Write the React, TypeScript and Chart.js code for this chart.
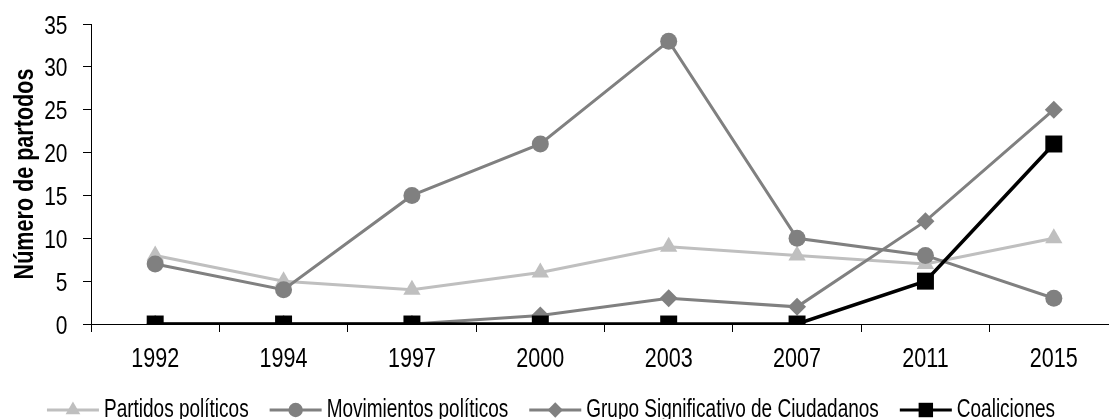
import React, { useEffect, useRef } from 'react';
import { Chart, registerables } from 'chart.js';
import { drawPoint } from 'chart.js/helpers';

Chart.register(...registerables);

const years = ['1992', '1994', '1997', '2000', '2003', '2007', '2011', '2015'];
const partidos = [8, 5, 4, 6, 9, 8, 7, 10];
const movimientos = [7, 4, 15, 21, 33, 10, 8, 3];
const grupo = [0, 0, 0, 1, 3, 2, 12, 25];
const coaliciones = [0, 0, 0, 0, 0, 0, 5, 21];
const seriesLabels = [
  'Partidos políticos',
  'Movimientos políticos',
  'Grupo Significativo de Ciudadanos',
  'Coaliciones',
];
const yTitle = 'Número de partodos';
const yMin = 0;
const yMax = 35;
const yStep = 5;

const REG = '"Liberation Sans", Arial, sans-serif';
const SX = 0.77; // condensed text
const SX_LEG = 0.76;
const SX_Y = 0.79;

function condensedText(
  ctx: CanvasRenderingContext2D,
  text: string,
  x: number,
  y: number,
  align: CanvasTextAlign,
  sx = SX,
) {
  ctx.save();
  ctx.translate(x, y);
  ctx.scale(sx, 1);
  ctx.textAlign = align;
  ctx.textBaseline = 'alphabetic';
  ctx.fillText(text, 0, 0);
  ctx.restore();
}

const textPlugin = {
  id: 'condensedTexts',
  afterDraw(chart: any) {
    const ctx = chart.ctx as CanvasRenderingContext2D;
    ctx.save();
    ctx.fillStyle = '#000';

    // x tick labels
    const xs = chart.scales.x;
    ctx.font = `28px ${REG}`;
    xs.ticks.forEach((t: any, i: number) => {
      condensedText(ctx, String(xs.getLabelForValue(t.value)), xs.getPixelForTick(i), 366.5, 'center');
    });

    // y tick labels
    const ys = chart.scales.y;
    ctx.font = `26.5px ${REG}`;
    ys.ticks.forEach((t: any, i: number) => {
      condensedText(ctx, String(t.value), 67.5, ys.getPixelForTick(i) + 9.5, 'right', SX_Y);
    });

    // y title
    ctx.save();
    ctx.font = `bold 28px ${REG}`;
    ctx.translate(33, (ys.top + ys.bottom) / 2);
    ctx.rotate(-Math.PI / 2);
    condensedText(ctx, yTitle, 0, 0, 'center');
    ctx.restore();

    // legend
    const ds = chart.data.datasets;
    ctx.font = `25px ${REG}`;
    const lineLen = 52;
    const gapText = 5;
    const gapItem = 21;
    const widths = ds.map((d: any) => lineLen + gapText + ctx.measureText(d.label).width * SX_LEG);
    const total = widths.reduce((a: number, b: number) => a + b, 0) + gapItem * (ds.length - 1);
    let x = 551 - total / 2;
    const y = 410;
    ds.forEach((d: any, i: number) => {
      ctx.strokeStyle = d.borderColor;
      ctx.lineWidth = 3;
      ctx.beginPath();
      ctx.moveTo(x, y);
      ctx.lineTo(x + lineLen, y);
      ctx.stroke();
      ctx.fillStyle = d.pointBackgroundColor;
      ctx.strokeStyle = d.pointBackgroundColor;
      drawPoint(ctx, { pointStyle: d.pointStyle, radius: d.pointRadius * 0.85, rotation: 0, borderWidth: 0 } as any, x + lineLen / 2, y);
      ctx.fillStyle = '#000';
      condensedText(ctx, d.label, x + lineLen + gapText, 417, 'left', SX_LEG);
      x += widths[i] + gapItem;
    });
    ctx.restore();
  },
};

export default function App() {
  const ref = useRef<HTMLCanvasElement>(null);

  useEffect(() => {
    document.body.style.margin = '0';
    document.body.style.overflow = 'hidden';
    const canvas = ref.current!;
    const mk = (label: string, data: number[], color: string, style: string, r: number, order: number, bw = 3) => ({
      label,
      data,
      borderColor: color,
      backgroundColor: color,
      pointBackgroundColor: color,
      pointBorderColor: color,
      pointBorderWidth: 0,
      pointStyle: style,
      pointRadius: r,
      pointHoverRadius: r,
      borderWidth: bw,
      tension: 0,
      fill: false,
      order,
    });
    const chart = new Chart(canvas, {
      type: 'line',
      data: {
        labels: years,
        datasets: [
          mk(seriesLabels[0], partidos, '#BFBFBF', 'triangle', 10, 4),
          mk(seriesLabels[1], movimientos, '#808080', 'circle', 8.5, 3),
          mk(seriesLabels[2], grupo, '#808080', 'rectRot', 9, 2),
          mk(seriesLabels[3], coaliciones, '#000000', 'rect', 12, 1, 3.5),
        ] as any,
      },
      options: {
        animation: false,
        responsive: false,
        devicePixelRatio: 1,
        layout: { padding: { left: 0, right: 7, top: 24, bottom: 45 } },
        plugins: {
          legend: { display: false },
          tooltip: { enabled: false },
        },
        scales: {
          x: {
            type: 'category',
            offset: true,
            grid: {
              offset: true,
              drawOnChartArea: false,
              drawTicks: true,
              tickLength: 8,
              color: '#000',
              tickColor: '#000',
            },
            border: { color: '#000', width: 1 },
            ticks: { display: false },
            afterFit: (s: any) => {
              s.height = 50;
              s.paddingLeft = 0;
              s.paddingRight = 0;
            },
          },
          y: {
            min: yMin,
            max: yMax,
            grid: {
              drawOnChartArea: false,
              drawTicks: true,
              tickLength: 8,
              color: '#000',
              tickColor: '#000',
            },
            border: { color: '#000', width: 1 },
            ticks: { display: false, stepSize: yStep },
            afterFit: (s: any) => {
              s.width = 91;
              s.paddingTop = 0;
              s.paddingBottom = 0;
            },
          },
        },
      } as any,
      plugins: [textPlugin],
    });
    return () => chart.destroy();
  }, []);

  return (
    <div style={{ position: 'absolute', left: 0, top: 0, width: 1130, height: 419, background: '#fff' }}>
      <canvas ref={ref} width={1130} height={419} style={{ display: 'block' }} />
    </div>
  );
}
